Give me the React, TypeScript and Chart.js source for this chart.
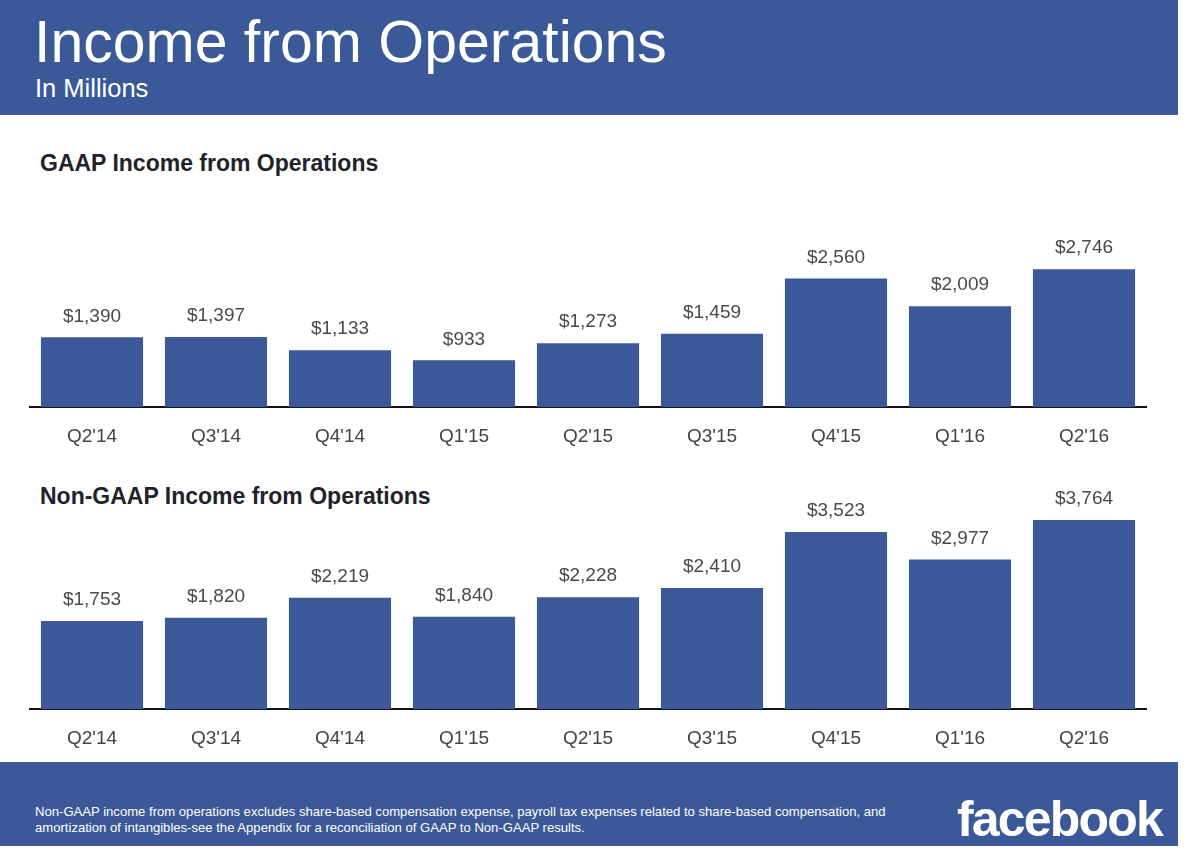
import React, { useEffect, useRef } from "react";
import { Chart, registerables } from "chart.js";

Chart.register(...registerables);

const quarters = ["Q2'14", "Q3'14", "Q4'14", "Q1'15", "Q2'15", "Q3'15", "Q4'15", "Q1'16", "Q2'16"];
const gaapValues = [1390, 1397, 1133, 933, 1273, 1459, 2560, 2009, 2746];
const nonGaapValues = [1753, 1820, 2219, 1840, 2228, 2410, 3523, 2977, 3764];

const BLUE = "#3b5998";
const FONT = "'Liberation Sans', Arial, Helvetica, sans-serif";
const CANVAS_H = 284;

const valueLabelPlugin = {
  id: "valueLabels",
  afterDatasetsDraw(chart: any) {
    const ctx = chart.ctx;
    ctx.save();
    ctx.font = `19px ${FONT}`;
    ctx.fillStyle = "#4a4a4a";
    ctx.textAlign = "center";
    ctx.textBaseline = "middle";
    chart.data.datasets.forEach((ds: any, di: number) => {
      const meta = chart.getDatasetMeta(di);
      meta.data.forEach((bar: any, i: number) => {
        const v = ds.data[i] as number;
        ctx.fillText("$" + v.toLocaleString("en-US"), bar.x, bar.y - 21);
      });
    });
    ctx.restore();
  },
};

function BarPanel({ values, top }: { values: number[]; top: number }) {
  const ref = useRef<HTMLCanvasElement | null>(null);
  useEffect(() => {
    if (!ref.current) return;
    const chart = new Chart(ref.current, {
      type: "bar",
      data: {
        labels: quarters,
        datasets: [
          {
            data: values,
            backgroundColor: BLUE,
            borderWidth: 0,
            barPercentage: 0.9,
            categoryPercentage: 0.915,
          },
        ],
      },
      options: {
        animation: false,
        responsive: false,
        maintainAspectRatio: false,
        layout: { padding: { left: 30, right: 54, top: 0, bottom: 0 } },
        plugins: { legend: { display: false }, tooltip: { enabled: false } },
        scales: {
          y: { display: false, min: 0, max: 4480 },
          x: {
            grid: { display: false, drawTicks: false },
            border: { display: true, color: "#111", width: 2 },
            ticks: { color: "#444", font: { family: FONT, size: 19 }, padding: 18 },
          },
        },
      },
      plugins: [valueLabelPlugin],
    });
    return () => chart.destroy();
  }, [values]);
  return (
    <div style={{ position: "absolute", left: 0, top, width: 1200, height: CANVAS_H }}>
      <canvas ref={ref} width={1200} height={CANVAS_H} style={{ width: 1200, height: CANVAS_H, display: "block" }} />
    </div>
  );
}

export default function App() {
  return (
    <div
      style={{
        position: "absolute",
        left: 0,
        top: 0,
        width: 1200,
        height: 858,
        background: "#fff",
        overflow: "hidden",
        fontFamily: FONT,
      }}
    >
      <div style={{ position: "absolute", left: 0, top: 0, width: 1178, height: 115, background: BLUE }} />
      <div style={{ position: "absolute", left: 34, top: 12, fontSize: 59, lineHeight: "60px", color: "#fff", whiteSpace: "nowrap" }}>
        Income from Operations
      </div>
      <div style={{ position: "absolute", left: 35, top: 76, fontSize: 25.5, lineHeight: "25px", color: "#fff", whiteSpace: "nowrap" }}>
        In Millions
      </div>

      <div style={{ position: "absolute", left: 40, top: 152, fontSize: 23, lineHeight: "23px", fontWeight: 700, color: "#1f2329", whiteSpace: "nowrap" }}>
        GAAP Income from Operations
      </div>
      <BarPanel values={gaapValues} top={182} />

      <div style={{ position: "absolute", left: 40, top: 485, fontSize: 23, lineHeight: "23px", fontWeight: 700, color: "#1f2329", whiteSpace: "nowrap" }}>
        Non-GAAP Income from Operations
      </div>
      <BarPanel values={nonGaapValues} top={484} />

      <div style={{ position: "absolute", left: 0, top: 762, width: 1178, height: 84, background: BLUE }} />
      <div style={{ position: "absolute", left: 35, top: 804, fontSize: 13.1, lineHeight: "16px", color: "#fff", whiteSpace: "nowrap" }}>
        Non-GAAP income from operations excludes share-based compensation expense, payroll tax expenses related to share-based compensation, and
        <br />
        amortization of intangibles-see the Appendix for a reconciliation of GAAP to Non-GAAP results.
      </div>
      <div style={{ position: "absolute", left: 957, top: 791, fontSize: 50, lineHeight: "56px", fontWeight: 700, letterSpacing: -1.8, color: "#fff", whiteSpace: "nowrap" }}>
        facebook
      </div>
    </div>
  );
}
